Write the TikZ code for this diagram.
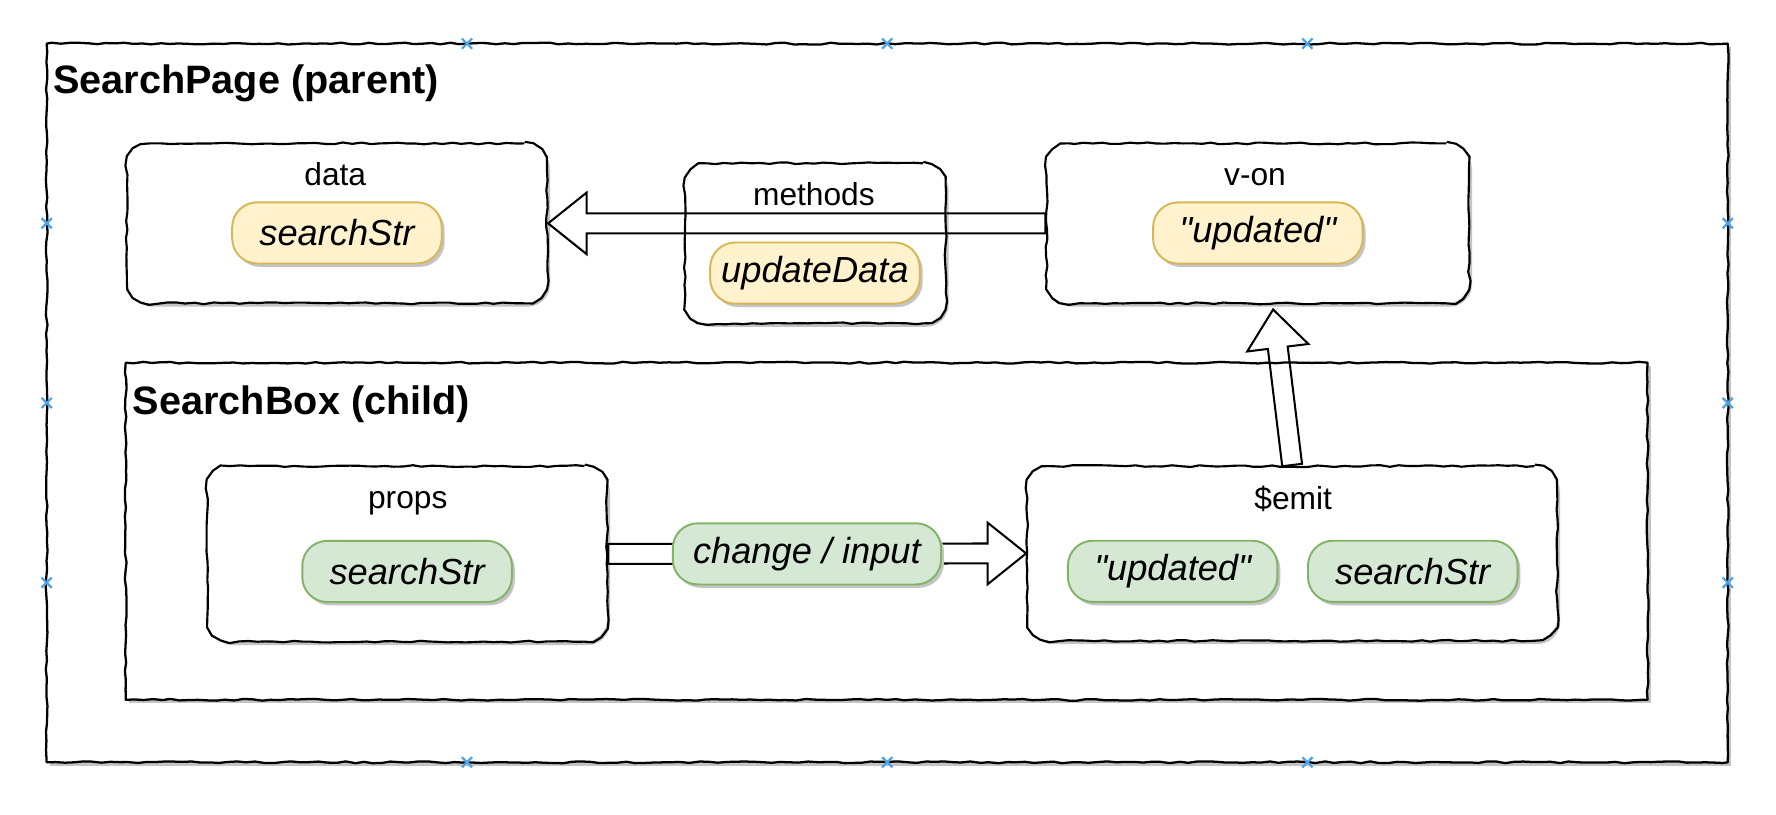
\documentclass[tikz,border=0pt]{standalone}
\usepackage{fontspec}
\setmainfont{Liberation Sans}[Ligatures=TeXOff]
\usetikzlibrary{calc,shadows,decorations.pathmorphing}
\definecolor{ylwfill}{HTML}{FFF2CC}
\definecolor{ylwdraw}{HTML}{D6B656}
\definecolor{grnfill}{HTML}{D5E8D4}
\definecolor{grndraw}{HTML}{82B366}
\definecolor{shadowgray}{HTML}{C4C4C4}
\definecolor{markblue}{HTML}{4DA3E6}
\newcommand\lbltext{\fontsize{14pt}{16pt}\selectfont}
\newcommand\pilltext{\fontsize{16pt}{18pt}\selectfont\itshape}
\newcommand\ttltext{\fontsize{17.5pt}{20pt}\selectfont\bfseries}
\tikzset{
  wobble/.style={postaction={draw=#1, sharp corners, line join=round, decorate, decoration={random steps, segment length=4pt, amplitude=0.4pt}}},
  shd/.style={drop shadow={shadow xshift=1.3pt, shadow yshift=-1.5pt, fill=shadowgray, opacity=1}},
  frame/.style={rectangle, fill=white, shd, wobble=black, line width=1pt, inner sep=0pt},
  compbox/.style={rectangle, rounded corners=10pt, fill=white, shd, wobble=black, line width=0.95pt, inner sep=0pt},
  pill/.style={rectangle, rounded corners=11pt, shd, line width=0.85pt, minimum width=92.5pt, minimum height=27pt, inner sep=0pt, font=\pilltext},
  ypill/.style={pill, fill=ylwfill, draw=ylwdraw},
  gpill/.style={pill, fill=grnfill, draw=grndraw},
  lbl/.style={anchor=base, font=\lbltext, inner sep=0pt},
  ttl/.style={anchor=base west, font=\ttltext, inner sep=0pt},
  flexline/.style={draw=black, line width=0.9pt, line join=miter},
  bluemark/.style={draw=markblue, line width=1pt},
}
\newcommand\fatarrow[2]{%
  \coordinate (fahead) at ($(#2)!17pt!(#1)$);
  \draw[flexline] ($(#1)!4.4pt!90:(#2)$) -- ($(fahead)!4.4pt!90:(#2)$) -- ($(fahead)!13.6pt!90:(#2)$) -- (#2) -- ($(fahead)!13.6pt!-90:(#2)$) -- ($(fahead)!4.4pt!-90:(#2)$) -- ($(#1)!4.4pt!-90:(#2)$) -- cycle;
}
\begin{document}
\begin{tikzpicture}[x=0.5pt,y=-0.5pt]
\pgfmathsetseed{7}
\useasboundingbox (0,0) rectangle (1568,719);
% containers
\node[frame, minimum width=742.1pt, minimum height=317.25pt] (page) at (783.3,355.75) {};
\foreach \mx in {412.3,783.3,1154.3}{
  \draw[bluemark] (\mx,38.5) +(-4.5,-4.5) -- +(4.5,4.5) +(-4.5,4.5) -- +(4.5,-4.5);
  \draw[bluemark] (\mx,673) +(-4.5,-4.5) -- +(4.5,4.5) +(-4.5,4.5) -- +(4.5,-4.5);
}
\foreach \my in {197.1,355.75,514.4}{
  \draw[bluemark] (41.2,\my) +(-4.5,-4.5) -- +(4.5,4.5) +(-4.5,4.5) -- +(4.5,-4.5);
  \draw[bluemark] (1525.4,\my) +(-4.5,-4.5) -- +(4.5,4.5) +(-4.5,4.5) -- +(4.5,-4.5);
}
\node[ttl] (pagettl) at (46.6,82.4) {SearchPage (parent)};
\node[frame, minimum width=671.8pt, minimum height=148.8pt] (child) at (782.8,469) {};
\node[ttl] (childttl) at (117,366) {SearchBox (child)};
% component boxes
\node[compbox, minimum width=185.5pt, minimum height=70.6pt] (data) at (297.5,197.2) {};
\node[compbox, minimum width=115.1pt, minimum height=70.65pt] (methods) at (719.8,214.85) {};
\node[compbox, minimum width=186.5pt, minimum height=70.6pt] (von) at (1110.5,197.2) {};
\node[compbox, minimum width=176.5pt, minimum height=77.5pt] (props) at (359.5,489) {};
\node[compbox, minimum width=233.9pt, minimum height=77.1pt] (emit) at (1140.8,488.6) {};
% labels
\node[lbl] (datalbl) at (296,163.4) {data};
\node[lbl] (methodslbl) at (718.6,181) {methods};
\node[lbl] (vonlbl) at (1108,163.4) {v-on};
\node[lbl] (propslbl) at (360,449) {props};
\node[lbl] (emitlbl) at (1141.7,450) {\$emit};
% arrows
\coordinate (vontip) at ($(von.south)+(13.5,4.5)$);
\fatarrow{von.west}{data.east}
\fatarrow{props.east}{emit.west}
\fatarrow{emit.north}{vontip}
% pills
\node[ypill] (dstr) at (297.5,205.6) {searchStr};
\node[ypill] (upd) at (719.5,241.1) {updateData};
\node[ypill] (vupd) at (1110.5,205.7) {"updated"};
\node[gpill] (pstr) at (359.4,504.5) {searchStr};
\node[gpill] (eupd) at (1035.3,504.4) {"updated"};
\node[gpill] (estr) at (1247.3,504.4) {searchStr};
\node[gpill, minimum width=118.4pt] (chg) at (712.4,489) {change / input};
\end{tikzpicture}
\end{document}
